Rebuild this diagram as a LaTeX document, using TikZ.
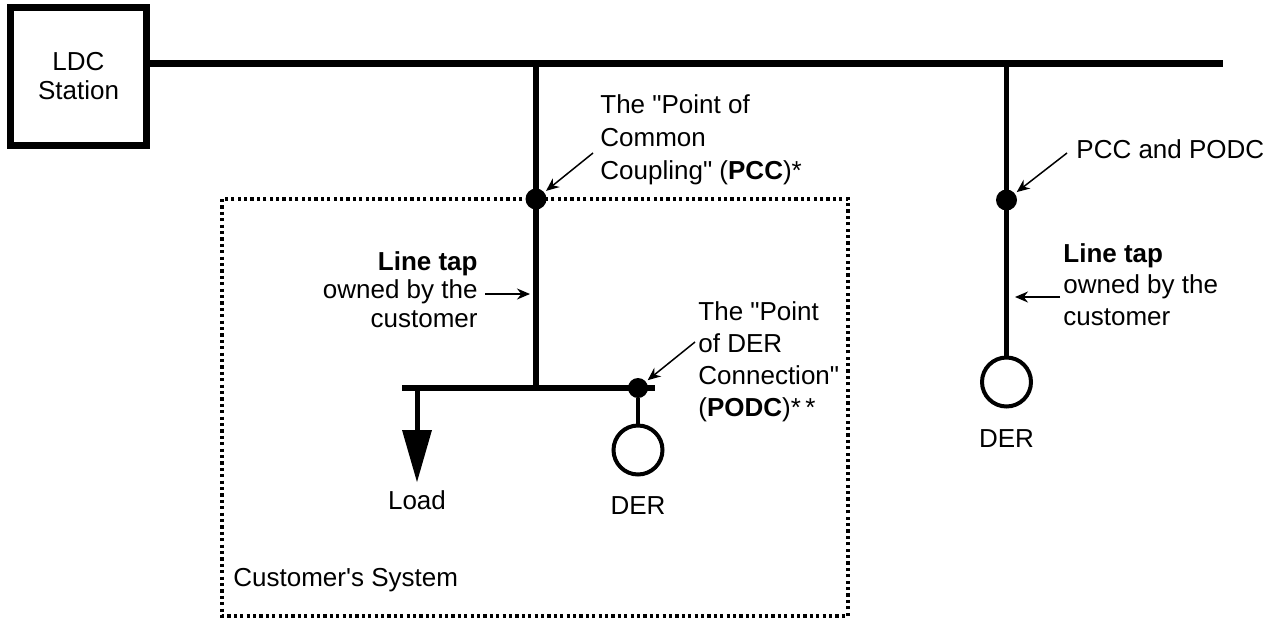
\documentclass[tikz,border=0pt]{standalone}
\usepackage{fontspec}
\setmainfont{Liberation Sans}
\usetikzlibrary{arrows.meta}
\newcommand{\qd}{\textquotedbl}
\begin{document}
\begin{tikzpicture}[x=0.5pt,y=-0.5pt,
  lbl/.style={inner sep=0pt, font=\fontsize{13}{15.5}\selectfont},
  bus/.style={line width=3.5pt},
  tap/.style={line width=2.75pt},
  dotpt/.style={circle, fill=black, inner sep=0pt, minimum size=10.5pt},
  gen/.style={circle, draw=black, line width=2pt, inner sep=0pt, minimum size=24.5pt},
  ptr/.style={line width=0.75pt, -{Stealth[length=6.5pt,width=5.5pt]}},
  sysbox/.style={line width=1.6pt, dash pattern=on 1.6pt off 1.6pt},
]
\useasboundingbox (0,0) rectangle (1269,622);

% customer's system boundary
\draw[sysbox] (222,199) rectangle (848,616);
\node[lbl, anchor=base west] (sysl) at (233,586) {Customer\textquotesingle s System};

% LDC station
\node[draw, line width=3.5pt, minimum width=68pt, minimum height=69pt, inner sep=0pt,
      align=center, font=\fontsize{13}{14.5}\selectfont] (ldc) at (78.5,76.5) {LDC\\Station};

% main bus
\coordinate (busend) at (1223,63.5);
\draw[bus] ([yshift=6.5pt]ldc.east) -- (busend);

% left tap
\coordinate (t1) at (536,63.5);
\coordinate (j1) at (536,388);
\draw[tap] (t1) -- (j1);
\node[dotpt] (pcc) at (536,199) {};

% customer bus
\coordinate (hl) at (402,388);
\coordinate (hr) at (655,388);
\draw[line width=3pt] (hl) -- (hr);

% load
\coordinate (ld) at (417,388);
\coordinate (lt) at (417,430);
\coordinate (ltip) at (417,482);
\draw[line width=2.5pt] (ld) -- ([yshift=-2pt]lt);
\fill ([xshift=-7.5pt]lt) -- ([xshift=7.5pt]lt) -- (ltip) -- cycle;
\node[lbl, anchor=base] (loadl) at (417,509) {Load};

% DER in customer's system
\node[dotpt, minimum size=10pt] (podc) at (638,388) {};
\node[gen] (der1) at (638,450) {};
\draw[line width=2.25pt] (podc) -- (der1);
\node[lbl, anchor=base] (der1l) at (638,514) {DER};

% right tap
\coordinate (t2) at (1006.5,63.5);
\node[gen] (der2) at (1006.5,382) {};
\draw[tap] (t2) -- (der2);
\node[dotpt] (pcc2) at (1006.5,200) {};
\node[lbl, anchor=base] (der2l) at (1006.5,447) {DER};

% PCC label
\node[lbl, anchor=north west, align=left, font=\fontsize{13}{16.5}\selectfont] (pccl) at (600,94)
  {The \qd Point of\\Common\\Coupling\qd\ ({\bfseries PCC})*};
\coordinate (pcca) at (593,153);
\draw[ptr, shorten >=1pt] (pcca) -- (pcc);

% left line tap label
\node[lbl, anchor=north east, align=right, font=\fontsize{13}{14.25}\selectfont] (ltl) at (478,251)
  {{\bfseries Line tap}\\owned by the\\customer};
\coordinate (lta) at (485,294);
\coordinate (ltb) at (530,294);
\draw[ptr] (lta) -- (ltb);

% PODC label
\node[lbl, anchor=north west, align=left, font=\fontsize{13}{16}\selectfont] (podcl) at (698,301)
  {The \qd Point\\of DER\\Connection\qd\\({\bfseries PODC})*\,*};
\coordinate (podca) at (695,342);
\draw[ptr, shorten >=1pt] (podca) -- (podc);

% right labels
\node[lbl, anchor=base west] (pp) at (1076,158) {PCC and PODC};
\coordinate (ppa) at (1067,153);
\draw[ptr, shorten >=1pt] (ppa) -- (pcc2);

\node[lbl, anchor=north west, align=left, font=\fontsize{13}{15.75}\selectfont] (rtl) at (1063,243)
  {{\bfseries Line tap}\\owned by the\\customer};
\coordinate (rta) at (1060,297);
\coordinate (rtb) at (1015,297);
\draw[ptr] (rta) -- (rtb);
\end{tikzpicture}
\end{document}
